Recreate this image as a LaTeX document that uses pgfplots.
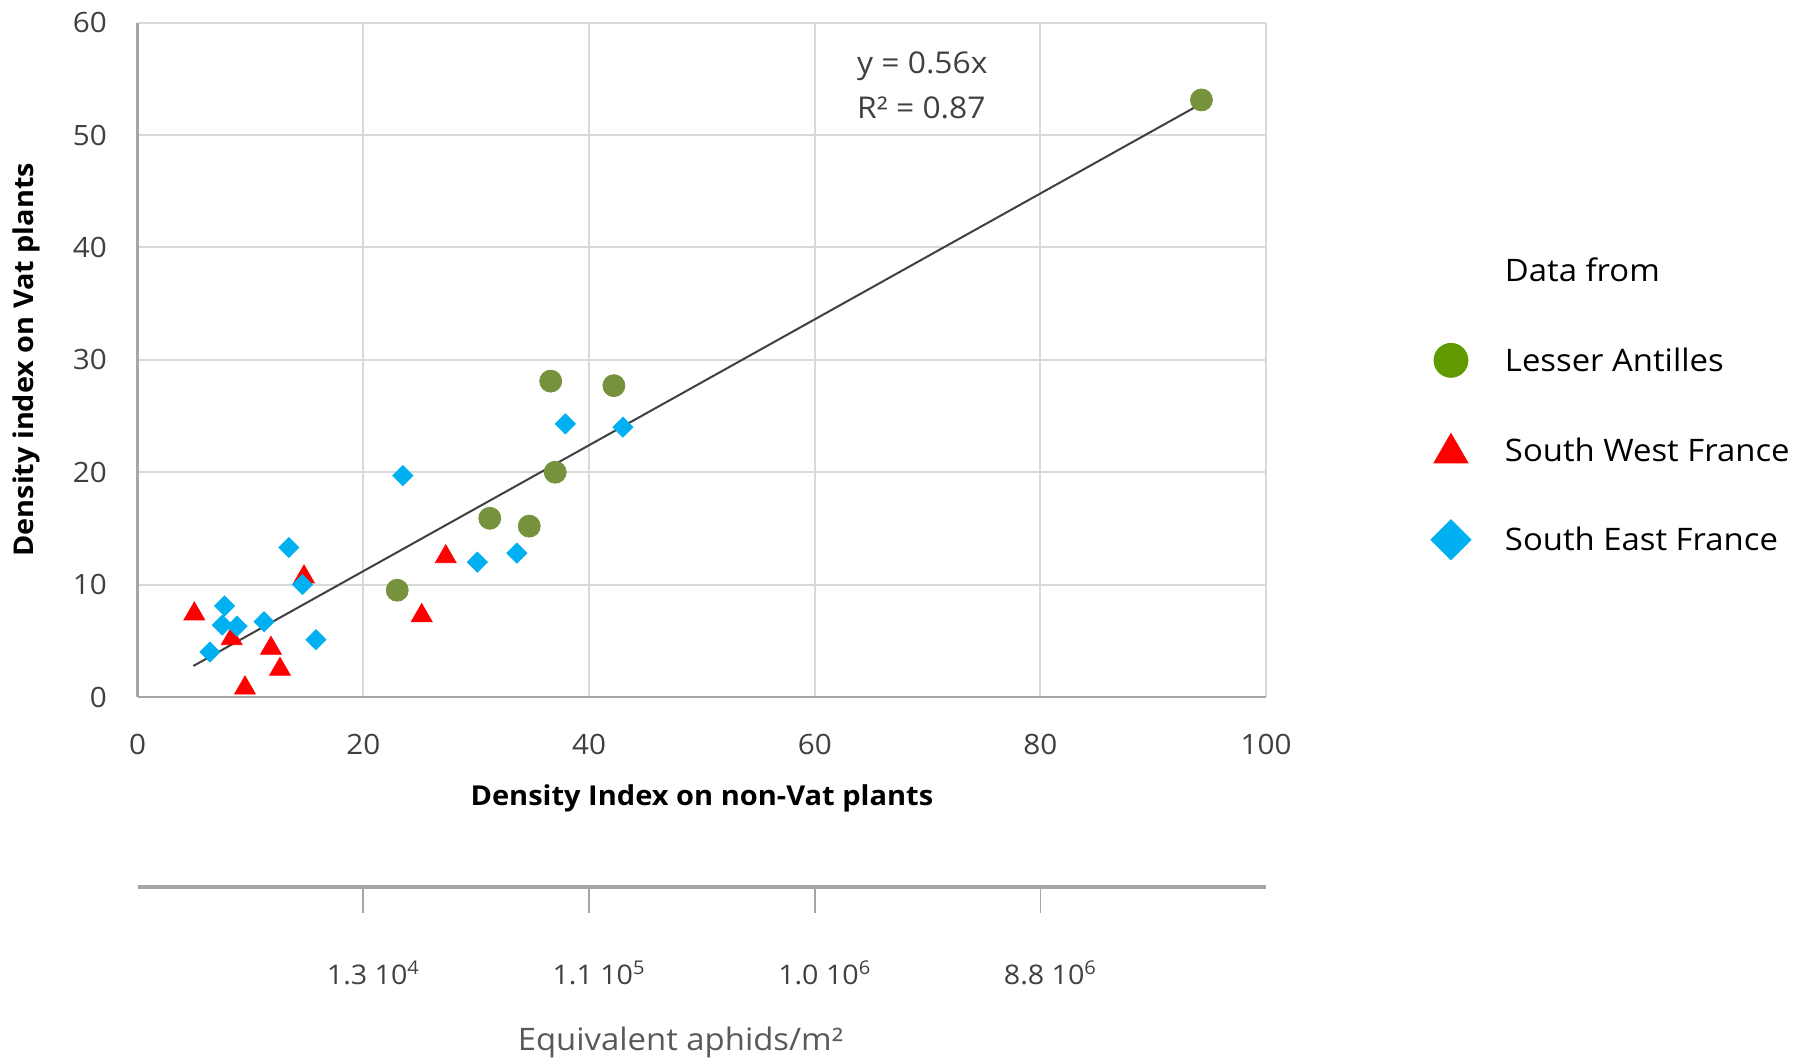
\documentclass[border=0pt]{standalone}
\usepackage{fontspec}
\setmainfont{Open Sans}[FakeStretch=1.06]
\usepackage{pgfplots}
\pgfplotsset{compat=1.18}
\definecolor{ptgreen}{RGB}{118,146,60}
\definecolor{lggreen}{RGB}{96,153,0}
\definecolor{ptred}{RGB}{255,0,0}
\definecolor{ptblue}{RGB}{0,176,240}
\definecolor{gridgray}{RGB}{217,217,217}
\definecolor{axgray}{RGB}{166,166,166}
\definecolor{txtgray}{RGB}{64,64,64}
\definecolor{lblgray}{RGB}{89,89,89}
\pgfplotsset{legimg/.style={legend image code/.code={\draw[##1] plot coordinates {(0pt,#1)};}}}

\pgfplotstableread{
x y
94.27 53.12
36.6 28.1
42.2 27.7
37.0 20.0
31.2 15.9
34.7 15.2
23.0 9.5
}\lesser
\pgfplotstableread{
x y
5.02 7.39
8.33 5.19
9.51 0.80
11.81 4.33
12.61 2.46
14.74 10.68
25.17 7.24
27.30 12.48
}\southwest
\pgfplotstableread{
x y
6.4 4.0
7.5 6.4
7.7 8.1
8.8 6.3
11.2 6.7
13.4 13.3
14.6 10.0
15.8 5.1
23.5 19.7
30.1 12.0
33.6 12.8
37.9 24.3
43.0 24.0
}\southeast

\begin{document}
\begin{tikzpicture}
\path[use as bounding box] (-68.85pt,-183.5pt) rectangle (831.15pt,348.5pt);
\begin{axis}[
  at={(0pt,0pt)}, anchor=south west,
  scale only axis, width=564.2pt, height=337.2pt,
  xmin=0, xmax=100, ymin=0, ymax=60,
  xtick={0,20,...,100}, ytick={0,10,...,60},
  /pgf/number format/assume math mode=true,
  grid=major, major grid style={gridgray, line width=1pt},
  axis x line*=bottom, axis y line*=left,
  axis line style={-, axgray, line width=1.4pt},
  major tick length=0pt,
  tick label style={font=\fontsize{14}{16}\selectfont, text=txtgray, inner sep=0pt},
  xticklabel style={anchor=base, yshift=-29pt},
  yticklabel style={anchor=east, xshift=-15.2pt},
  xlabel={Density Index on non-Vat plants},
  ylabel={Density index on Vat plants},
  xlabel style={at={([yshift=-54.3pt]axis description cs:0.5,0)}, anchor=base, inner sep=0pt, font=\bfseries\fontsize{13.7}{16}\selectfont},
  ylabel style={at={([xshift=-52.2pt]axis description cs:0,0.5)}, anchor=base, inner sep=0pt, font=\bfseries\fontsize{13.6}{16}\selectfont},
  clip=false,
  legend style={draw=none, fill=none, at={(1.1461,0.6633)}, anchor=north west,
    inner sep=0pt, outer sep=0pt, row sep=23.85pt, column sep=17pt,
    font=\fontsize{15.5}{18}\selectfont,
    nodes={inner sep=0pt, text height=16pt, text depth=5pt, anchor=base west}},
]
\addplot[only marks, mark=*, mark size=5.5pt, color=ptgreen, forget plot] table[x=x,y=y] {\lesser};
\addplot[only marks, mark=triangle*, mark size=6pt, color=ptred, forget plot] table[x=x,y=y] {\southwest};
\addplot[only marks, mark=square*, mark size=3.54pt, mark options={rotate=45}, color=ptblue, forget plot] table[x=x,y=y] {\southeast};
\addplot[color=txtgray, line width=1pt, forget plot] coordinates {(4.93,2.76) (94.27,52.79)};
\node[anchor=base west, inner sep=0pt, text=txtgray, font=\fontsize{15}{18}\selectfont] at (axis cs:63.72,55.5) {y = 0.56x};
\node[anchor=base west, inner sep=0pt, text=txtgray, font=\fontsize{15}{18}\selectfont] at (axis cs:63.72,51.5) {R² = 0.87};
\addlegendimage{empty legend}
\addlegendentry{Data from}
\addlegendimage{only marks, mark=*, mark size=8.5pt, color=lggreen, legimg=5.5pt}
\addlegendentry{Lesser Antilles}
\addlegendimage{only marks, mark=triangle*, mark size=9.8pt, color=ptred, legimg=4pt}
\addlegendentry{South West France}
\addlegendimage{only marks, mark=square*, mark size=7.07pt, mark options={rotate=45}, color=ptblue, legimg=5.5pt}
\addlegendentry{South East France}
\end{axis}
\begin{axis}[
  at={(0pt,-95pt)}, anchor=south west,
  scale only axis, width=564.2pt, height=1pt,
  xmin=0, xmax=100, ymin=0, ymax=1,
  axis x line*=bottom, axis y line=none,
  x axis line style={-, draw=axgray, line width=1.6pt},
  xtick={20,40,60,80},
  xticklabels={1.3 10\textsuperscript{4}, 1.1 10\textsuperscript{5}, 1.0 10\textsuperscript{6}, 8.8 10\textsuperscript{6}},
  xtick align=outside, major tick length=13pt,
  tick style={axgray, line width=0.9pt},
  xticklabel style={anchor=base, inner sep=0pt, yshift=-36pt, xshift=5pt, text=txtgray, font=\fontsize{13.5}{16}\selectfont},
  xlabel={Equivalent aphids/m²},
  xlabel style={at={([yshift=-81.5pt]axis description cs:0.481,0)}, anchor=base, inner sep=0pt, text=lblgray, font=\fontsize{15.5}{18}\selectfont},
  clip=false,
]
\end{axis}
\end{tikzpicture}
\end{document}
